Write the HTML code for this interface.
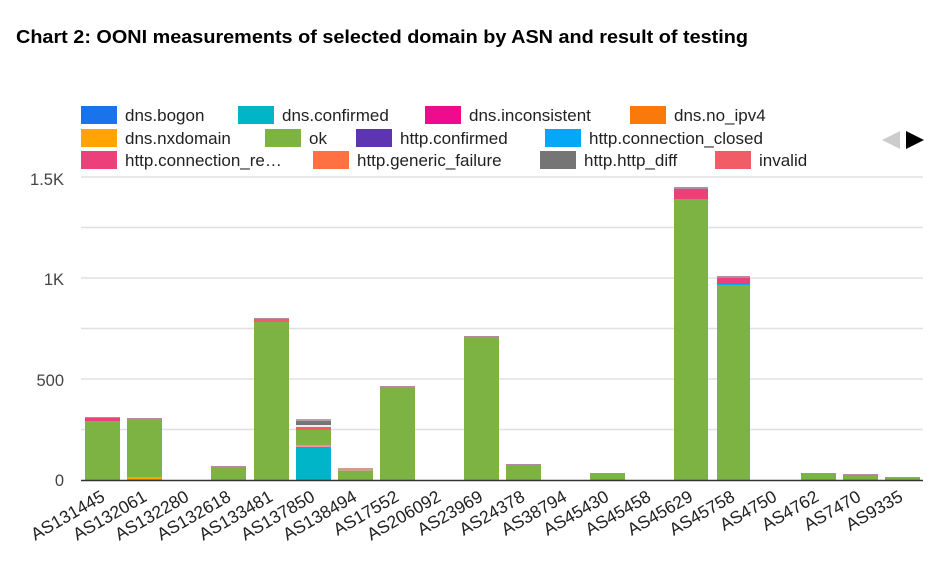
<!DOCTYPE html>
<html><head><meta charset="utf-8"><style>
body{margin:0;background:#fff;}
svg{display:block;font-family:"Liberation Sans",Arial,sans-serif;}
</style></head><body>
<svg width="941" height="562" viewBox="0 0 941 562">
<text x="16" y="43" font-size="18" font-weight="bold" fill="#000" textLength="732" lengthAdjust="spacingAndGlyphs">Chart 2: OONI measurements of selected domain by ASN and result of testing</text>
<!-- legend -->
<g font-size="17" fill="#222">
<rect x="81" y="106" width="36" height="18" fill="#1a73e8"/><text x="125" y="121">dns.bogon</text>
<rect x="238" y="106" width="36" height="18" fill="#00b5c8"/><text x="282" y="121">dns.confirmed</text>
<rect x="425" y="106" width="36" height="18" fill="#ef0a8e"/><text x="469" y="121">dns.inconsistent</text>
<rect x="630" y="106" width="36" height="18" fill="#f97a0a"/><text x="674" y="121">dns.no_ipv4</text>
<rect x="81" y="129" width="36" height="18" fill="#ffa400"/><text x="125" y="144">dns.nxdomain</text>
<rect x="265" y="129" width="36" height="18" fill="#7cb342"/><text x="309" y="144">ok</text>
<rect x="356" y="129" width="36" height="18" fill="#5e35b1"/><text x="400" y="144">http.confirmed</text>
<rect x="545" y="129" width="36" height="18" fill="#03a9f4"/><text x="589" y="144">http.connection_closed</text>
<rect x="81" y="151" width="36" height="18" fill="#ec407a"/><text x="125" y="166">http.connection_re…</text>
<rect x="313" y="151" width="36" height="18" fill="#ff7043"/><text x="357" y="166">http.generic_failure</text>
<rect x="540" y="151" width="36" height="18" fill="#757575"/><text x="584" y="166">http.http_diff</text>
<rect x="715" y="151" width="36" height="18" fill="#f25c67"/><text x="759" y="166">invalid</text>
</g>
<polygon points="900,131 900,149 882,140" fill="#ccc"/>
<polygon points="906,131 906,149 924,140" fill="#000"/>
<!-- grid -->
<g stroke="#e0e0e0" stroke-width="1.5">
<line x1="81" x2="923" y1="177" y2="177"/><line x1="81" x2="923" y1="227.5" y2="227.5"/>
<line x1="81" x2="923" y1="278" y2="278"/><line x1="81" x2="923" y1="328.5" y2="328.5"/>
<line x1="81" x2="923" y1="379" y2="379"/><line x1="81" x2="923" y1="429.5" y2="429.5"/>
</g>
<g font-size="16.5" fill="#444" text-anchor="end">
<text x="64" y="185">1.5K</text><text x="64" y="285">1K</text><text x="64" y="386">500</text><text x="64" y="486">0</text>
</g>
<!-- bars -->
<g>
<rect x="85" y="421" width="35" height="59" fill="#7cb342"/><rect x="85" y="418" width="35" height="3" fill="#ec407a"/><rect x="85" y="417" width="35" height="1" fill="#b48aa0"/>
<rect x="127" y="420" width="35" height="60" fill="#7cb342"/><rect x="127" y="477" width="35" height="2" fill="#ffa400"/><rect x="127" y="418" width="35" height="2" fill="#b48aa0"/>
<rect x="211" y="468" width="35" height="12" fill="#7cb342"/><rect x="211" y="466" width="35" height="2" fill="#b48aa0"/>
<rect x="254" y="322" width="35" height="158" fill="#7cb342"/><rect x="254" y="319" width="35" height="3" fill="#f25c67"/><rect x="254" y="318" width="35" height="1" fill="#b48aa0"/>
<rect x="296" y="447" width="35" height="33" fill="#00b5c8"/><rect x="296" y="445" width="35" height="2" fill="#ff8aa8"/><rect x="296" y="430" width="35" height="15" fill="#7cb342"/><rect x="296" y="427" width="35" height="3" fill="#f25c67"/><rect x="296" y="425" width="35" height="2" fill="#eee"/><rect x="296" y="421" width="35" height="4" fill="#757575"/><rect x="296" y="419" width="35" height="2" fill="#b8a0a8"/>
<rect x="338" y="471" width="35" height="9" fill="#7cb342"/><rect x="338" y="468" width="35" height="3" fill="#c9a08a"/>
<rect x="380" y="388" width="35" height="92" fill="#7cb342"/><rect x="380" y="386" width="35" height="2" fill="#b48aa0"/>
<rect x="464" y="338" width="35" height="142" fill="#7cb342"/><rect x="464" y="336" width="35" height="2" fill="#b48aa0"/>
<rect x="506" y="465" width="35" height="15" fill="#7cb342"/><rect x="506" y="464" width="35" height="1" fill="#b48aa0"/>
<rect x="590" y="474" width="35" height="6" fill="#7cb342"/><rect x="590" y="473" width="35" height="1" fill="#b48aa0"/>
<rect x="674" y="199" width="34" height="281" fill="#7cb342"/><rect x="674" y="189" width="34" height="10" fill="#ec407a"/><rect x="674" y="187" width="34" height="2" fill="#b48aa0"/>
<rect x="717" y="285" width="33" height="195" fill="#7cb342"/><rect x="717" y="284" width="33" height="1" fill="#03a9f4"/><rect x="717" y="278" width="33" height="6" fill="#ec407a"/><rect x="717" y="276" width="33" height="2" fill="#b48aa0"/>
<rect x="801" y="474" width="35" height="6" fill="#7cb342"/><rect x="801" y="473" width="35" height="1" fill="#b48aa0"/>
<rect x="843" y="475" width="35" height="5" fill="#7cb342"/><rect x="843" y="474" width="35" height="1" fill="#b48aa0"/>
<rect x="885" y="478" width="35" height="2" fill="#7cb342"/><rect x="885" y="477" width="35" height="1" fill="#b48aa0"/>
</g>
<line x1="81" x2="923" y1="480.5" y2="480.5" stroke="#333" stroke-width="1.5"/>
<!-- x labels -->
<g font-size="17.5" fill="#222" text-anchor="end">
<text transform="translate(106,500) rotate(-30)">AS131445</text>
<text transform="translate(148,500) rotate(-30)">AS132061</text>
<text transform="translate(190,500) rotate(-30)">AS132280</text>
<text transform="translate(232,500) rotate(-30)">AS132618</text>
<text transform="translate(274,500) rotate(-30)">AS133481</text>
<text transform="translate(316,500) rotate(-30)">AS137850</text>
<text transform="translate(358,500) rotate(-30)">AS138494</text>
<text transform="translate(400,500) rotate(-30)">AS17552</text>
<text transform="translate(442,500) rotate(-30)">AS206092</text>
<text transform="translate(484,500) rotate(-30)">AS23969</text>
<text transform="translate(526,500) rotate(-30)">AS24378</text>
<text transform="translate(568,500) rotate(-30)">AS38794</text>
<text transform="translate(610,500) rotate(-30)">AS45430</text>
<text transform="translate(652,500) rotate(-30)">AS45458</text>
<text transform="translate(694,500) rotate(-30)">AS45629</text>
<text transform="translate(736,500) rotate(-30)">AS45758</text>
<text transform="translate(778,500) rotate(-30)">AS4750</text>
<text transform="translate(820,500) rotate(-30)">AS4762</text>
<text transform="translate(862,500) rotate(-30)">AS7470</text>
<text transform="translate(904,500) rotate(-30)">AS9335</text>
</g>
</svg>
</body></html>
